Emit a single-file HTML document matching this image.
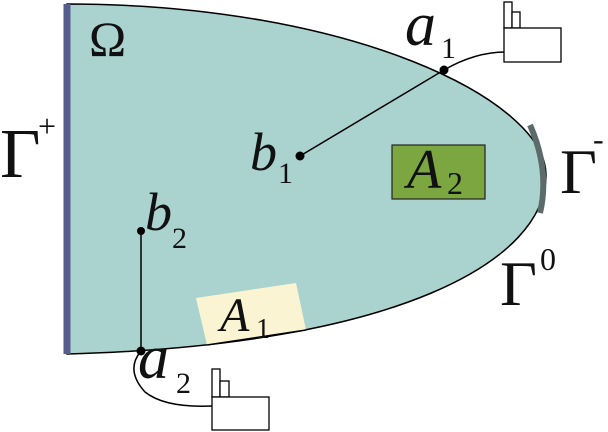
<!DOCTYPE html>
<html><head><style>body{margin:0;background:#fff}svg{display:block}</style></head>
<body>
<svg width="608" height="432" viewBox="0 0 608 432" xmlns="http://www.w3.org/2000/svg" font-family="Liberation Serif, serif">
<path d="M67,4 C350,4 546,100 546,175 C546,260 400,345 67,354 Z" fill="#aad3cf" stroke="#000" stroke-width="1.5"/>
<polygon points="196,298 296,283 306,330 207,345" fill="#fbf4d3"/>
<path d="M207,345 L306,330" stroke="#000" stroke-width="1.5"/>
<line x1="67" y1="4" x2="67" y2="354" stroke="#545d8b" stroke-width="7"/>
<path d="M530,125 Q550,170 540,213" fill="none" stroke="#5c6a6b" stroke-width="6"/>
<rect x="392" y="145" width="93" height="54" fill="#7ba640" stroke="#222" stroke-width="1.2"/>
<line x1="300" y1="156" x2="444" y2="70" stroke="#000" stroke-width="1.5"/>
<line x1="141" y1="231" x2="141" y2="351" stroke="#000" stroke-width="1.5"/>
<circle cx="300" cy="156" r="4.5"/><circle cx="141" cy="231" r="4"/>
<circle cx="444" cy="70" r="4.5"/><circle cx="141" cy="351" r="4.5"/>
<path d="M444,70 Q475,52 506,52" fill="none" stroke="#000" stroke-width="1.5"/>
<path d="M141,351 Q125,370 145,392 Q165,408 212,406" fill="none" stroke="#000" stroke-width="1.5"/>
<g fill="#fff" stroke="#000" stroke-width="1.3">
<rect x="504" y="2" width="8" height="26"/><rect x="512" y="12" width="8" height="16"/><rect x="504" y="28" width="57" height="34"/>
<rect x="212" y="369" width="8" height="28"/><rect x="220" y="381" width="9" height="16"/><rect x="212" y="397" width="57" height="33"/>
</g>
<g fill="#111">
<text x="89" y="56" font-size="50">Ω</text>
<text x="0" y="177" font-size="70">Γ</text><text x="38" y="137" font-size="32">+</text>
<text x="250" y="170" font-size="54" font-style="italic">b</text><text x="278" y="183" font-size="30">1</text>
<text x="145" y="230" font-size="54" font-style="italic">b</text><text x="172" y="248" font-size="30">2</text>
<text x="405" y="45" font-size="62" font-style="italic">a</text><text x="441" y="58" font-size="30">1</text>
<text x="138" y="378" font-size="62" font-style="italic">a</text><text x="176" y="393" font-size="30">2</text>
<text x="407" y="188" font-size="56" font-style="italic">A</text><text x="447" y="194" font-size="32">2</text>
<text x="220" y="331" font-size="48" font-style="italic">A</text><text x="256" y="338" font-size="28">1</text>
<text x="560" y="193" font-size="64">Γ</text><text x="593" y="150" font-size="32">-</text>
<text x="500" y="305" font-size="64">Γ</text><text x="540" y="270" font-size="32">0</text>
</g>
</svg>
</body></html>
